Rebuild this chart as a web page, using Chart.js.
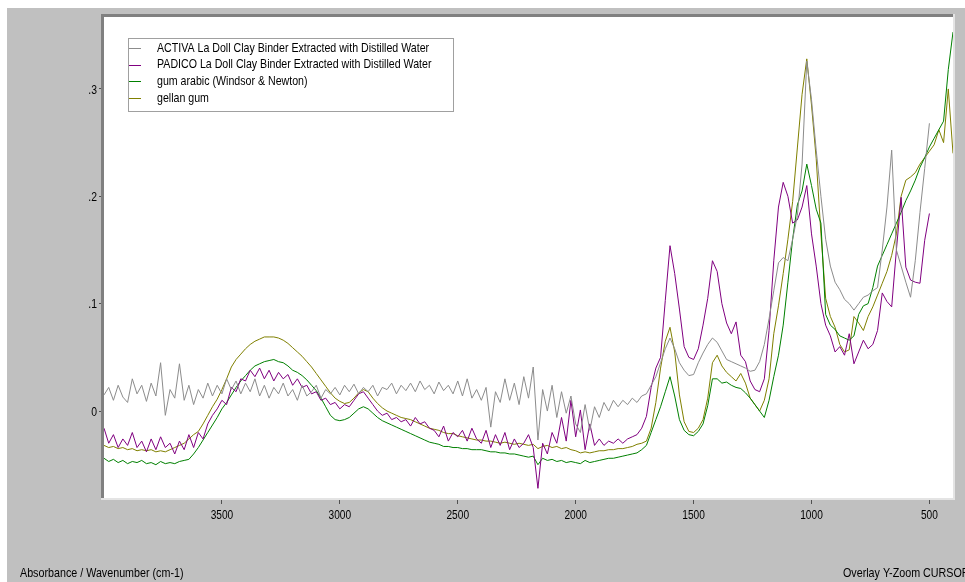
<!DOCTYPE html>
<html>
<head>
<meta charset="utf-8">
<script src="https://cdn.jsdelivr.net/npm/chart.js@4.4.0/dist/chart.umd.min.js"></script>
<style>
    html, body { margin: 0; padding: 0; background: #ffffff; }
    #wrap { width: 965px; height: 582px; position: relative; }
</style>
</head>
<body>
<div id="wrap"><canvas id="spectrumChart"></canvas></div>
<script>
// Wavenumber grid (cm-1), one row = 200 cm-1
const wavenumbers = [
    4000, 3980, 3960, 3940, 3920, 3900, 3880, 3860, 3840, 3820,
    3800, 3780, 3760, 3740, 3720, 3700, 3680, 3660, 3640, 3620,
    3600, 3580, 3560, 3540, 3520, 3500, 3480, 3460, 3440, 3420,
    3400, 3380, 3360, 3340, 3320, 3300, 3280, 3260, 3240, 3220,
    3200, 3180, 3160, 3140, 3120, 3100, 3080, 3060, 3040, 3020,
    3000, 2980, 2960, 2940, 2920, 2900, 2880, 2860, 2840, 2820,
    2800, 2780, 2760, 2740, 2720, 2700, 2680, 2660, 2640, 2620,
    2600, 2580, 2560, 2540, 2520, 2500, 2480, 2460, 2440, 2420,
    2400, 2380, 2360, 2340, 2320, 2300, 2280, 2260, 2240, 2220,
    2200, 2180, 2160, 2140, 2120, 2100, 2080, 2060, 2040, 2020,
    2000, 1980, 1960, 1940, 1920, 1900, 1880, 1860, 1840, 1820,
    1800, 1780, 1760, 1740, 1720, 1700, 1680, 1660, 1640, 1620,
    1600, 1580, 1560, 1540, 1520, 1500, 1480, 1460, 1440, 1420,
    1400, 1380, 1360, 1340, 1320, 1300, 1280, 1260, 1240, 1220,
    1200, 1180, 1160, 1140, 1120, 1100, 1080, 1060, 1040, 1020,
    1000, 980, 960, 940, 920, 900, 880, 860, 840, 820,
    800, 780, 760, 740, 720, 700, 680, 660, 640, 620,
    600, 580, 560, 540, 520, 500, 480, 460, 440, 420,
    400
];

// ACTIVA La Doll Clay Binder
const activa = [
    0.015, 0.022, 0.010, 0.024, 0.013, 0.008, 0.030, 0.016, 0.024, 0.009,
    0.026, 0.014, 0.045, -0.004, 0.020, 0.012, 0.044, 0.010, 0.024, 0.006,
    0.020, 0.012, 0.026, 0.014, 0.024, 0.016, 0.030, 0.020, 0.028, 0.016,
    0.026, 0.018, 0.030, 0.014, 0.024, 0.012, 0.022, 0.016, 0.026, 0.014,
    0.020, 0.010, 0.024, 0.014, 0.018, 0.024, 0.012, 0.020, 0.016, 0.022,
    0.015, 0.024, 0.018, 0.025, 0.016, 0.022, 0.018, 0.024, 0.014, 0.022,
    0.020, 0.026, 0.016, 0.024, 0.019, 0.026, 0.018, 0.028, 0.020, 0.024,
    0.016, 0.027, 0.019, 0.024, 0.016, 0.028, 0.014, 0.030, 0.012, 0.020,
    0.010, 0.022, -0.015, 0.018, 0.008, 0.030, 0.010, 0.026, 0.006, 0.032,
    0.012, 0.041, -0.027, 0.020, 0.000, 0.024, -0.006, 0.018, -0.002, 0.014,
    -0.012, -0.020, 0.006, -0.018, 0.004, -0.006, 0.008, 0.000, 0.010, 0.004,
    0.010, 0.006, 0.012, 0.008, 0.014, 0.016, 0.024, 0.032, 0.045, 0.058,
    0.068, 0.058, 0.045, 0.038, 0.033, 0.034, 0.045, 0.054, 0.062, 0.068,
    0.064, 0.056, 0.048, 0.046, 0.044, 0.042, 0.040, 0.037, 0.038, 0.046,
    0.062, 0.086, 0.112, 0.138, 0.143, 0.140, 0.160, 0.182, 0.230, 0.326,
    0.290, 0.243, 0.200, 0.160, 0.135, 0.120, 0.113, 0.104, 0.100, 0.094,
    0.100, 0.106, 0.108, 0.112, 0.115, 0.150, 0.190, 0.243, 0.150, 0.135,
    0.120, 0.106, 0.140, 0.185, 0.226, 0.268, null, null, null, null,
    null
];

// PADICO La Doll Clay Binder
const padico = [
    -0.016, -0.030, -0.022, -0.034, -0.026, -0.032, -0.020, -0.034, -0.028, -0.038,
    -0.026, -0.036, -0.024, -0.034, -0.030, -0.040, -0.028, -0.036, -0.022, -0.034,
    -0.020, -0.026, -0.012, -0.004, 0.002, 0.010, 0.006, 0.022, 0.018, 0.030,
    0.028, 0.038, 0.032, 0.040, 0.030, 0.038, 0.028, 0.036, 0.030, 0.034,
    0.024, 0.030, 0.022, 0.024, 0.016, 0.018, 0.010, 0.012, 0.006, 0.008,
    0.002, 0.006, 0.004, 0.010, 0.016, 0.018, 0.012, 0.006, 0.000, -0.004,
    -0.002, -0.008, -0.006, -0.010, -0.008, -0.014, -0.006, -0.012, -0.010, -0.016,
    -0.018, -0.024, -0.014, -0.028, -0.020, -0.024, -0.018, -0.028, -0.016, -0.026,
    -0.030, -0.018, -0.034, -0.022, -0.032, -0.020, -0.036, -0.026, -0.034, -0.030,
    -0.022, -0.034, -0.072, -0.030, -0.040, -0.020, -0.030, -0.006, -0.028, 0.010,
    -0.024, 0.001, -0.036, -0.012, -0.032, -0.026, -0.032, -0.028, -0.030, -0.026,
    -0.030, -0.026, -0.024, -0.022, -0.016, -0.005, 0.022, 0.040, 0.050, 0.103,
    0.154, 0.128, 0.095, 0.060, 0.050, 0.048, 0.058, 0.080, 0.105, 0.140,
    0.130, 0.100, 0.082, 0.072, 0.083, 0.052, 0.046, 0.028, 0.020, 0.018,
    0.030, 0.075, 0.140, 0.190, 0.213, 0.200, 0.175, 0.178, 0.190, 0.210,
    0.165, 0.135, 0.100, 0.080, 0.070, 0.055, 0.060, 0.052, 0.072, 0.044,
    0.055, 0.066, 0.058, 0.062, 0.075, 0.110, 0.102, 0.097, 0.150, 0.199,
    0.134, 0.122, 0.120, 0.119, 0.159, 0.184, null, null, null, null,
    null
];

// gum arabic (Windsor & Newton)
const gumArabic = [
    -0.044, -0.047, -0.045, -0.048, -0.046, -0.049, -0.047, -0.048, -0.046, -0.049,
    -0.048, -0.050, -0.047, -0.049, -0.048, -0.049, -0.047, -0.046, -0.045, -0.040,
    -0.034, -0.027, -0.020, -0.013, -0.006, 0.002, 0.008, 0.015, 0.022, 0.028,
    0.033, 0.038, 0.042, 0.044, 0.046, 0.047, 0.048, 0.046, 0.045, 0.042,
    0.038, 0.036, 0.033, 0.029, 0.024, 0.019, 0.012, 0.004, -0.004, -0.008,
    -0.009, -0.008, -0.006, -0.002, 0.002, 0.004, 0.002, -0.002, -0.006, -0.009,
    -0.011, -0.013, -0.015, -0.017, -0.019, -0.021, -0.023, -0.025, -0.027, -0.029,
    -0.030, -0.031, -0.033, -0.033, -0.034, -0.034, -0.035, -0.035, -0.036, -0.036,
    -0.036, -0.037, -0.038, -0.038, -0.039, -0.039, -0.040, -0.040, -0.041, -0.042,
    -0.043, -0.042, -0.050, -0.044, -0.046, -0.045, -0.047, -0.046, -0.048, -0.047,
    -0.048, -0.049, -0.046, -0.048, -0.047, -0.046, -0.045, -0.044, -0.044, -0.043,
    -0.042, -0.041, -0.040, -0.039, -0.036, -0.032, -0.020, -0.008, 0.004, 0.018,
    0.032, 0.014, -0.008, -0.018, -0.022, -0.023, -0.019, -0.012, 0.005, 0.030,
    0.030, 0.026, 0.027, 0.024, 0.022, 0.021, 0.017, 0.012, 0.006, 0.000,
    -0.006, 0.010, 0.032, 0.052, 0.080, 0.120, 0.160, 0.192, 0.205, 0.230,
    0.210, 0.188, 0.175, 0.090, 0.080, 0.076, 0.070, 0.068, 0.066, 0.070,
    0.090, 0.098, 0.100, 0.115, 0.135, 0.145, 0.155, 0.165, 0.175, 0.185,
    0.196, 0.205, 0.215, 0.227, 0.236, 0.246, 0.254, 0.262, 0.270, 0.318,
    0.353
];

// gellan gum
const gellanGum = [
    -0.032, -0.034, -0.033, -0.035, -0.034, -0.036, -0.035, -0.037, -0.036, -0.037,
    -0.036, -0.038, -0.037, -0.038, -0.036, -0.034, -0.032, -0.030, -0.026, -0.022,
    -0.019, -0.012, -0.004, 0.004, 0.011, 0.020, 0.030, 0.041, 0.048, 0.053,
    0.058, 0.062, 0.065, 0.067, 0.069, 0.069, 0.069, 0.068, 0.066, 0.063,
    0.059, 0.055, 0.051, 0.046, 0.041, 0.035, 0.029, 0.023, 0.017, 0.012,
    0.009, 0.007, 0.008, 0.012, 0.017, 0.020, 0.018, 0.012, 0.007, 0.003,
    0.000, -0.002, -0.004, -0.006, -0.007, -0.008, -0.010, -0.012, -0.014, -0.016,
    -0.017, -0.018, -0.020, -0.021, -0.021, -0.023, -0.024, -0.025, -0.026, -0.027,
    -0.027, -0.028, -0.028, -0.029, -0.030, -0.029, -0.030, -0.031, -0.030, -0.031,
    -0.032, -0.031, -0.035, -0.033, -0.032, -0.034, -0.033, -0.035, -0.034, -0.036,
    -0.037, -0.039, -0.038, -0.039, -0.038, -0.037, -0.037, -0.036, -0.036, -0.035,
    -0.035, -0.034, -0.033, -0.031, -0.030, -0.028, -0.016, 0.008, 0.040, 0.065,
    0.078, 0.055, 0.015, -0.010, -0.019, -0.020, -0.016, -0.008, 0.012, 0.045,
    0.052, 0.042, 0.036, 0.032, 0.028, 0.035, 0.026, 0.012, 0.006, 0.000,
    0.010, 0.030, 0.072, 0.098, 0.128, 0.160, 0.195, 0.245, 0.295, 0.328,
    0.285, 0.235, 0.165, 0.105, 0.088, 0.078, 0.062, 0.055, 0.057, 0.088,
    0.082, 0.075, 0.088, 0.097, 0.108, 0.119, 0.130, 0.145, 0.165, 0.200,
    0.215, 0.218, 0.222, 0.230, 0.236, 0.242, 0.248, 0.262, 0.250, 0.300,
    0.240
];

const seriesLabels = [
    'ACTIVA La Doll Clay Binder Extracted with Distilled Water',
    'PADICO La Doll Clay Binder Extracted with Distilled Water',
    'gum arabic (Windsor & Newton)',
    'gellan gum'
];
const seriesValues = [activa, padico, gumArabic, gellanGum];
const seriesColors = ['#8c8c8c', '#800080', '#008000', '#808000'];

const xTicks = [3500, 3000, 2500, 2000, 1500, 1000, 500];
const yTicks = [0, 0.1, 0.2, 0.3];
const yTickLabels = ['0', '.1', '.2', '.3'];

const FONT = '"Liberation Sans", Arial, sans-serif';

// the original uses a condensed face, so squeeze the text horizontally
function drawNarrowText(ctx, text, x, y, squeeze) {
    ctx.save();
    ctx.translate(x, y);
    ctx.scale(squeeze, 1);
    ctx.fillText(text, 0, 0);
    ctx.restore();
}

// gray window background + white plot area
const backgroundPlugin = {
    id: 'background',
    beforeDraw(chart) {
        const { ctx, width, height, chartArea } = chart;
        ctx.save();
        ctx.fillStyle = '#ffffff';
        ctx.fillRect(0, 0, width, height);
        ctx.fillStyle = '#c0c0c0';
        ctx.fillRect(7, 8, width - 7, height - 8);
        ctx.fillStyle = '#ffffff';
        ctx.fillRect(chartArea.left, chartArea.top, chartArea.right - chartArea.left, chartArea.bottom - chartArea.top);
        ctx.restore();
    }
};

// sunken frame, tick labels, legend box and status texts
const decorPlugin = {
    id: 'decor',
    afterDraw(chart) {
        const { ctx, chartArea } = chart;
        const { left, top, right, bottom } = chartArea;
        const xScale = chart.scales.x;
        const yScale = chart.scales.y;
        ctx.save();

        // frame
        ctx.fillStyle = '#808080';
        ctx.fillRect(left - 3, top - 3, right - left + 3, 3);
        ctx.fillRect(left - 3, top - 3, 3, bottom - top + 3);
        ctx.fillStyle = '#e4e4e4';
        ctx.fillRect(left - 3, bottom, right - left + 5, 2);
        ctx.fillRect(right, top - 3, 2, bottom - top + 5);

        // tick labels
        ctx.fillStyle = '#000000';
        ctx.font = '13px ' + FONT;
        ctx.textBaseline = 'alphabetic';
        ctx.textAlign = 'center';
        xTicks.forEach(v => {
            drawNarrowText(ctx, String(v), xScale.getPixelForValue(v), bottom + 21, 0.78);
        });
        ctx.textAlign = 'right';
        ctx.textBaseline = 'middle';
        yTicks.forEach((v, i) => {
            drawNarrowText(ctx, yTickLabels[i], left - 7, yScale.getPixelForValue(v) + 1, 0.8);
        });

        // legend
        const bx = 128, by = 38, bw = 325, bh = 73;
        ctx.fillStyle = '#ffffff';
        ctx.fillRect(bx, by, bw, bh);
        ctx.strokeStyle = '#a0a0a0';
        ctx.lineWidth = 1;
        ctx.strokeRect(bx + 0.5, by + 0.5, bw, bh);
        ctx.font = '13px ' + FONT;
        ctx.textBaseline = 'middle';
        ctx.textAlign = 'left';
        seriesLabels.forEach((label, i) => {
            const y = 48 + i * 16.7;
            ctx.strokeStyle = seriesColors[i];
            ctx.beginPath();
            ctx.moveTo(bx + 1, Math.round(y) + 0.5);
            ctx.lineTo(bx + 13, Math.round(y) + 0.5);
            ctx.stroke();
            ctx.fillStyle = '#000000';
            drawNarrowText(ctx, label, 157, y, 0.817);
        });

        // status line
        ctx.fillStyle = '#000000';
        ctx.textBaseline = 'alphabetic';
        drawNarrowText(ctx, 'Absorbance / Wavenumber (cm-1)', 20, 577, 0.825);
        drawNarrowText(ctx, 'Overlay Y-Zoom CURSOR', 843, 577, 0.825);
        ctx.restore();
    }
};

function renderSpectrumChart() {
    const ctx = document.getElementById('spectrumChart');
    if (!ctx) return;

    new Chart(ctx, {
        type: 'line',
        data: {
            datasets: seriesLabels.map((label, k) => ({
                label: label,
                data: wavenumbers.map((w, i) => ({ x: w, y: seriesValues[k][i] })),
                borderColor: seriesColors[k],
                backgroundColor: seriesColors[k],
                borderWidth: 1,
                pointRadius: 0,
                tension: 0,
                fill: false,
                spanGaps: false
            }))
        },
        options: {
            responsive: true,
            maintainAspectRatio: false,
            animation: false,
            layout: {
                padding: { top: 17, right: 12, bottom: 0, left: 0 }
            },
            plugins: {
                legend: { display: false },
                tooltip: { enabled: false }
            },
            scales: {
                x: {
                    type: 'linear',
                    reverse: true,
                    min: 400,
                    max: 4000,
                    afterBuildTicks: scale => { scale.ticks = xTicks.map(v => ({ value: v })); },
                    afterFit: scale => { scale.height = 84; },
                    border: { display: false },
                    grid: {
                        drawOnChartArea: false,
                        drawTicks: true,
                        tickLength: 6,
                        color: '#505050'
                    },
                    ticks: { display: false }
                },
                y: {
                    type: 'linear',
                    min: -0.081,
                    max: 0.367,
                    afterBuildTicks: scale => { scale.ticks = yTicks.map(v => ({ value: v })); },
                    afterFit: scale => { scale.width = 104; },
                    border: { display: false },
                    grid: {
                        drawOnChartArea: false,
                        drawTicks: true,
                        tickLength: 5,
                        color: '#505050'
                    },
                    ticks: { display: false }
                }
            }
        },
        plugins: [backgroundPlugin, decorPlugin]
    });
}

document.addEventListener('DOMContentLoaded', renderSpectrumChart);
</script>
</body>
</html>
